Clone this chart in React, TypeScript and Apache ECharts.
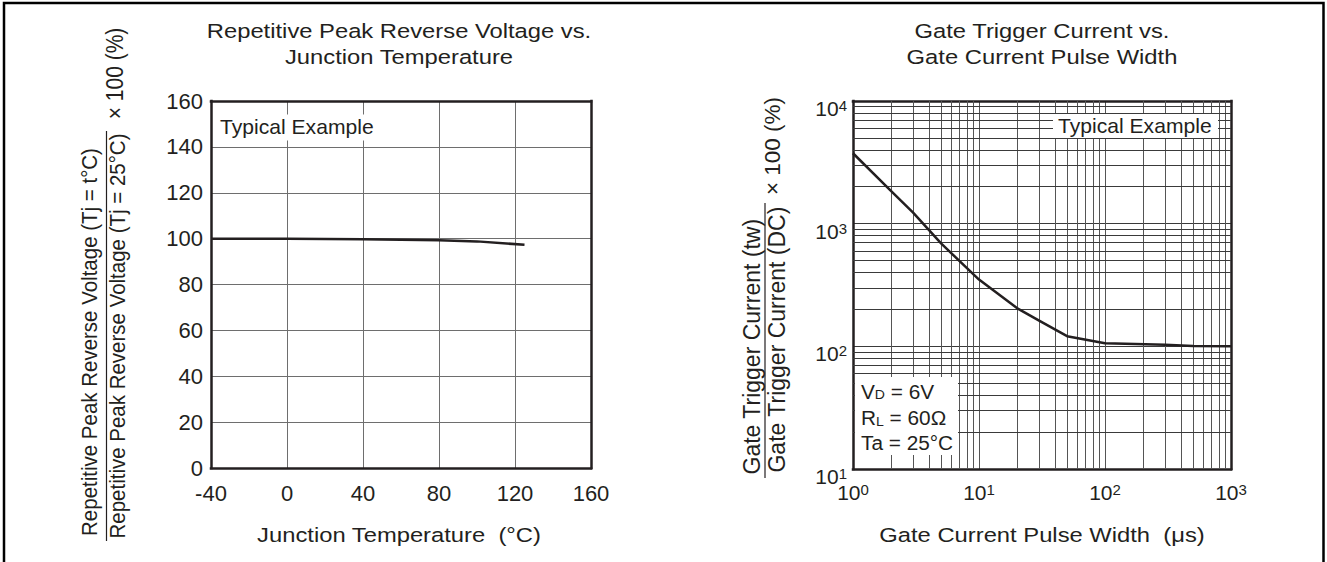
import React, { useEffect, useRef } from "react";
import * as echarts from "echarts";

// ---------- data ----------
// Left chart: Repetitive peak reverse voltage ratio vs junction temperature
const junctionTemp = [-40, 0, 40, 80, 100, 125];
const voltageRatio = [100, 99.9, 99.7, 99.3, 98.8, 97.3];
const tempAxis = [-40, 160, 40]; // min, max, interval
const ratioAxis = [0, 160, 20]; // min, max, interval

// Right chart: Gate trigger current ratio vs gate current pulse width
const pulseWidth = [1, 2, 3, 5, 10, 20, 30, 50, 100, 300, 500, 1000];
const gateRatio = [3750, 1850, 1230, 690, 350, 205, 162, 121, 106, 103, 100.5, 100];
const pulseAxis = [1, 1000]; // min, max (log)
const gateAxis = [10, 10000]; // min, max (log)
const minorMultipliers = [2, 3, 4, 5, 6, 7, 8, 9];

const leftTitle = ["Repetitive Peak Reverse Voltage vs.", "Junction Temperature"];
const rightTitle = ["Gate Trigger Current vs.", "Gate Current Pulse Width"];
const leftXName = "Junction Temperature  (°C)";
const rightXName = "Gate Current Pulse Width  (μs)";
const leftYNum = "Repetitive Peak Reverse Voltage (Tj = t°C)";
const leftYDen = "Repetitive Peak Reverse Voltage (Tj = 25°C)";
const rightYNum = "Gate Trigger Current (tw)";
const rightYDen = "Gate Trigger Current (DC)";
const yFactor = "× 100 (%)";
const typicalLabel = "Typical Example";
const conditions = [
  ["V", "D", " = 6V"],
  ["R", "L", " = 60Ω"],
  ["Ta = 25°C", "", ""],
];

// ---------- styles ----------
const FONT = '"Liberation Sans", Arial, Helvetica, sans-serif';
const INK = "#231f20";
const GRID_GRAY = "#6e6e6e";
const LOG_V_GRAY = "#555";
const LOG_H_GRAY = "#3a3a3a";
const FRAME_W = 2.5;

function minorValues(min: number, max: number): number[] {
  const out: number[] = [];
  for (let d = min; d < max; d *= 10) {
    for (const m of minorMultipliers) out.push(d * m);
  }
  return out;
}

function txt(
  text: string,
  x: number,
  y: number,
  fontSize: number,
  opts: any = {}
) {
  return {
    type: "text",
    x,
    y,
    rotation: opts.rotation || 0,
    scaleX: opts.scaleX || 1,
    scaleY: opts.scaleY || 1,
    z: 20,
    silent: true,
    style: {
      text,
      fontSize,
      fontFamily: FONT,
      fill: INK,
      align: opts.align || "center",
      verticalAlign: "middle",
      rich: opts.rich,
    },
  };
}

function logLabel(v: number) {
  return `{b|10}{s|${Math.round(Math.log10(v))}}`;
}

const logRich = {
  b: { fontSize: 21, fontFamily: FONT, color: INK, verticalAlign: "top" },
  s: { fontSize: 15, fontFamily: FONT, color: INK, verticalAlign: "top" },
};

function buildOption() {
  const frameLine = { show: true, lineStyle: { color: INK, width: FRAME_W, cap: "square" } };
  const split = (color: string) => ({
    show: true,
    showMinLine: false,
    showMaxLine: false,
    lineStyle: { color, width: 1 },
  });
  const hiddenAxisParts = {
    axisTick: { show: false },
    axisLabel: { show: false },
    splitLine: { show: false },
  };

  const minorX = minorValues(pulseAxis[0], pulseAxis[1]).map((v) => ({
    xAxis: v,
    lineStyle: { type: "solid", color: LOG_V_GRAY, width: 1 },
  }));
  const minorY = minorValues(gateAxis[0], gateAxis[1]).map((v) => ({
    yAxis: v,
    lineStyle: { type: "solid", color: LOG_H_GRAY, width: 1 },
  }));

  const graphic: any[] = [
    // outer frame
    {
      type: "polyline",
      z: 30,
      silent: true,
      shape: { points: [[4, 562], [4, 3], [1323.5, 3], [1323.5, 562]] },
      style: { stroke: "#000", lineWidth: 2.5, fill: "none" },
    },
    // titles
    txt(leftTitle[0], 399, 31.5, 20.5, { scaleX: 1.16 }),
    txt(leftTitle[1], 399, 57.5, 20.5, { scaleX: 1.16 }),
    txt(rightTitle[0], 1042, 31.5, 20.5, { scaleX: 1.16 }),
    txt(rightTitle[1], 1042, 57.5, 20.5, { scaleX: 1.16 }),
    // x axis names
    txt(leftXName, 399, 535, 20.5, { scaleX: 1.16 }),
    txt(rightXName, 1042, 535, 20.5, { scaleX: 1.16 }),
    // left y name (fraction)
    txt(leftYNum, 90, 342, 20.5, { rotation: Math.PI / 2, scaleY: 1.1 }),
    txt(leftYDen, 118, 336, 20.5, { rotation: Math.PI / 2, scaleY: 1.1 }),
    txt(yFactor, 115, 73.5, 21, { rotation: Math.PI / 2, scaleY: 1.1 }),
    {
      type: "line",
      z: 20,
      silent: true,
      shape: { x1: 106.5, y1: 541, x2: 106.5, y2: 131 },
      style: { stroke: INK, lineWidth: 1.2 },
    },
    // right y name (fraction)
    txt(rightYNum, 751.5, 346.7, 23, { rotation: Math.PI / 2 }),
    txt(rightYDen, 777, 339.6, 23, { rotation: Math.PI / 2 }),
    txt(yFactor, 772, 146, 22.5, { rotation: Math.PI / 2 }),
    {
      type: "line",
      z: 20,
      silent: true,
      shape: { x1: 765, y1: 478, x2: 765, y2: 203 },
      style: { stroke: INK, lineWidth: 1.2 },
    },
    // Typical Example boxes
    {
      type: "rect",
      z: 15,
      silent: true,
      shape: { x: 214, y: 114.5, width: 168, height: 26 },
      style: { fill: "#fff" },
    },
    txt(typicalLabel, 220, 127, 20.5, { align: "left", scaleX: 1.03 }),
    {
      type: "rect",
      z: 15,
      silent: true,
      shape: { x: 1053, y: 114, width: 165, height: 24 },
      style: { fill: "#fff" },
    },
    txt(typicalLabel, 1058, 125.5, 20.5, { align: "left", scaleX: 1.03 }),
    // conditions box
    {
      type: "rect",
      z: 15,
      silent: true,
      shape: { x: 855, y: 377, width: 103, height: 78 },
      style: { fill: "#fff" },
    },
  ];

  const condRich = {
    m: { fontSize: 20, fontFamily: FONT, fill: INK, color: INK, verticalAlign: "bottom" },
    s: { fontSize: 13.5, fontFamily: FONT, fill: INK, color: INK, verticalAlign: "bottom" },
  };
  const condY = [391.7, 418.3, 443];
  conditions.forEach((c, i) => {
    const t = c[1] ? `{m|${c[0]}}{s|${c[1]}}{m|${c[2]}}` : `{m|${c[0]}}`;
    graphic.push(txt(t, 861, condY[i], 20, { align: "left", scaleX: 1.04, rich: condRich }));
  });

  return {
    animation: false,
    backgroundColor: "#fff",
    grid: [
      { left: 211, top: 101, width: 380, height: 367 },
      { left: 853, top: 101, width: 378, height: 368 },
    ],
    xAxis: [
      {
        type: "value",
        gridIndex: 0,
        min: tempAxis[0],
        max: tempAxis[1],
        interval: tempAxis[2],
        axisLine: { ...frameLine, onZero: false },
        axisTick: { show: false },
        axisLabel: { fontSize: 22, fontFamily: FONT, color: INK, margin: 14 },
        splitLine: split(GRID_GRAY),
      },
      {
        type: "log",
        logBase: 10,
        gridIndex: 1,
        min: pulseAxis[0],
        max: pulseAxis[1],
        axisLine: { ...frameLine, onZero: false },
        axisTick: { show: false },
        axisLabel: { formatter: logLabel, rich: logRich, margin: 13 },
        splitLine: split(LOG_V_GRAY),
      },
      {
        type: "value",
        gridIndex: 0,
        position: "top",
        min: tempAxis[0],
        max: tempAxis[1],
        interval: tempAxis[2],
        axisLine: { ...frameLine, onZero: false },
        ...hiddenAxisParts,
      },
      {
        type: "log",
        logBase: 10,
        gridIndex: 1,
        position: "top",
        min: pulseAxis[0],
        max: pulseAxis[1],
        axisLine: { ...frameLine, onZero: false },
        ...hiddenAxisParts,
      },
    ],
    yAxis: [
      {
        type: "value",
        gridIndex: 0,
        min: ratioAxis[0],
        max: ratioAxis[1],
        interval: ratioAxis[2],
        axisLine: { ...frameLine, onZero: false },
        axisTick: { show: false },
        axisLabel: {
          fontSize: 22,
          fontFamily: FONT,
          color: INK,
          margin: 8,
          padding: [6, 0, 0, 0],
        },
        splitLine: split(GRID_GRAY),
      },
      {
        type: "log",
        logBase: 10,
        gridIndex: 1,
        min: gateAxis[0],
        max: gateAxis[1],
        axisLine: { ...frameLine, onZero: false },
        axisTick: { show: false },
        axisLabel: {
          formatter: logLabel,
          rich: logRich,
          margin: 6,
          padding: [15, 0, 0, 0],
        },
        splitLine: split(LOG_H_GRAY),
      },
      {
        type: "value",
        gridIndex: 0,
        position: "right",
        min: ratioAxis[0],
        max: ratioAxis[1],
        interval: ratioAxis[2],
        axisLine: { ...frameLine, onZero: false },
        ...hiddenAxisParts,
      },
      {
        type: "log",
        logBase: 10,
        gridIndex: 1,
        position: "right",
        min: gateAxis[0],
        max: gateAxis[1],
        axisLine: { ...frameLine, onZero: false },
        ...hiddenAxisParts,
      },
    ],
    series: [
      {
        type: "line",
        xAxisIndex: 0,
        yAxisIndex: 0,
        z: 5,
        symbol: "none",
        silent: true,
        lineStyle: { color: INK, width: 2.5 },
        data: junctionTemp.map((t, i) => [t, voltageRatio[i]]),
      },
      {
        type: "line",
        xAxisIndex: 1,
        yAxisIndex: 1,
        z: 5,
        symbol: "none",
        silent: true,
        lineStyle: { color: INK, width: 2.5 },
        data: pulseWidth.map((w, i) => [w, gateRatio[i]]),
        markLine: {
          z: 1,
          silent: true,
          symbol: ["none", "none"],
          label: { show: false },
          emphasis: { disabled: true },
          lineStyle: { type: "solid", color: GRID_GRAY, width: 1 },
          data: [...minorX, ...minorY],
        },
      },
    ],
    graphic,
  };
}

export default function App() {
  const ref = useRef<HTMLDivElement>(null);
  useEffect(() => {
    if (!ref.current) return;
    const chart = echarts.init(ref.current, null, { renderer: "svg" });
    chart.setOption(buildOption() as any);
    return () => chart.dispose();
  }, []);
  return (
    <div
      ref={ref}
      style={{
        position: "fixed",
        left: 0,
        top: 0,
        width: 1327,
        height: 562,
        background: "#fff",
      }}
    />
  );
}
